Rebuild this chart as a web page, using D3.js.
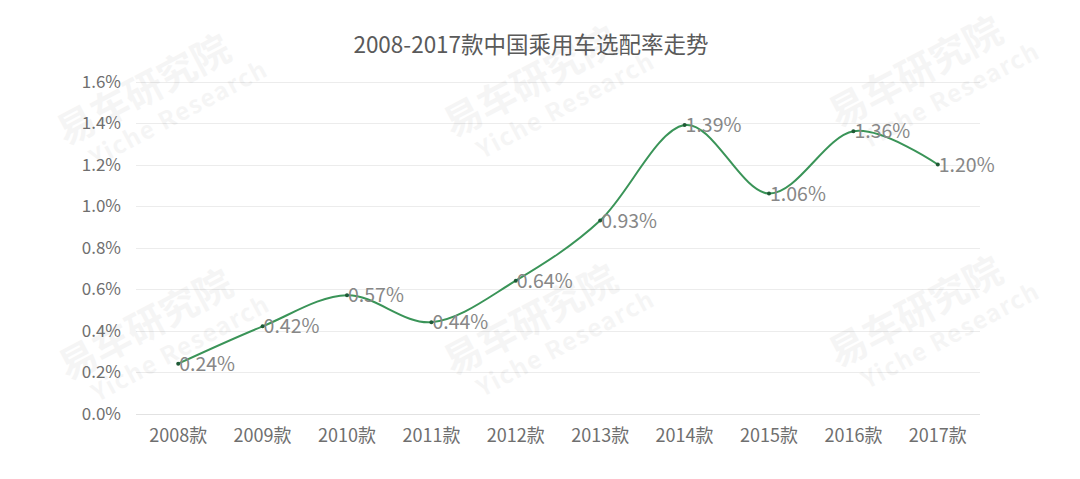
<!DOCTYPE html>
<html>
<head>
<meta charset="utf-8">
<script src="https://cdn.jsdelivr.net/npm/d3@7"></script>
<style>
  html, body { margin: 0; padding: 0; background: #ffffff; }
  svg { display: block; }
  text { font-family: "Noto Sans CJK SC", "Open Sans", sans-serif; }
</style>
</head>
<body>
<div id="chart"></div>
<script>
const title = "2008-2017款中国乘用车选配率走势";
const categories = ["2008款","2009款","2010款","2011款","2012款","2013款","2014款","2015款","2016款","2017款"];
const values = [0.24, 0.42, 0.57, 0.44, 0.64, 0.93, 1.39, 1.06, 1.36, 1.20];
const yTicks = [0, 0.2, 0.4, 0.6, 0.8, 1.0, 1.2, 1.4, 1.6];
const watermarkPositions = [[158, 100], [545, 92], [930, 82], [160, 335], [545, 330], [930, 322]];

const W = 1080, H = 479;
const svg = d3.select("#chart").append("svg").attr("width", W).attr("height", H);
svg.append("rect").attr("width", W).attr("height", H).attr("fill", "#ffffff");

const x = d3.scaleBand().domain(categories).range([136, 980]);
const y = d3.scaleLinear().domain([0, 1.6]).range([413.5, 81.5]);

// gridlines
svg.append("g").selectAll("line").data(yTicks).join("line")
  .attr("x1", 136).attr("x2", 980)
  .attr("y1", d => Math.round(y(d)) + 0.5).attr("y2", d => Math.round(y(d)) + 0.5)
  .attr("stroke", d => d === 0 ? "#e2e2e2" : "#ececec").attr("stroke-width", 1);

// watermarks
const wm = svg.append("g").attr("pointer-events", "none");
watermarkPositions.forEach(([cx, cy]) => {
  const g = wm.append("g").attr("transform", `translate(${cx},${cy}) rotate(-28)`);
  g.append("text").attr("x", -8).attr("y", -2).attr("text-anchor", "middle")
    .attr("font-size", 38).attr("font-weight", 700).attr("fill", "#000").attr("opacity", 0.035)
    .text("易车研究院");
  g.append("text").attr("x", 12).attr("y", 30).attr("text-anchor", "middle")
    .attr("font-size", 24).attr("font-weight", 700).attr("fill", "#000").attr("opacity", 0.035)
    .attr("letter-spacing", 1.5)
    .text("Yiche Research");
});

// y axis labels
const yAxis = d3.axisLeft(y).tickValues(yTicks).tickSize(0).tickPadding(0)
  .tickFormat(d => d.toFixed(1) + "%");
const yg = svg.append("g").attr("transform", "translate(121,0)").call(yAxis);
yg.select(".domain").remove();
yg.selectAll("text").attr("font-size", 17).attr("fill", "#6f6f6f")
  .attr("font-family", "'Open Sans', 'Noto Sans CJK SC', sans-serif").attr("dy", "0.35em");

// x axis labels
const xAxis = d3.axisBottom(x).tickSize(0).tickPadding(0);
const xg = svg.append("g").attr("transform", "translate(0,427)").call(xAxis);
xg.select(".domain").remove();
xg.selectAll("text").attr("font-size", 18).attr("fill", "#6f6f6f").attr("dy", "0.85em");

// line
const cx = d => x(d) + x.bandwidth() / 2;
const pts = categories.map((c, i) => [cx(c), y(values[i])]);
svg.append("path").datum(pts)
  .attr("d", d3.line().curve(d3.curveCardinal.tension(0)))
  .attr("fill", "none").attr("stroke", "#3a9458").attr("stroke-width", 2);

svg.append("g").selectAll("circle").data(pts).join("circle")
  .attr("cx", d => d[0]).attr("cy", d => d[1]).attr("r", 2)
  .attr("fill", "#1f5a35");

// data labels
svg.append("g").selectAll("text").data(values).join("text")
  .attr("x", (d, i) => cx(categories[i]) + 1)
  .attr("y", d => y(d))
  .attr("dy", "0.36em")
  .attr("font-size", 19.5).attr("fill", "#878787")
  .attr("font-family", "'Open Sans', 'Noto Sans CJK SC', sans-serif")
  .text(d => d.toFixed(2) + "%");

// title
svg.append("text").attr("x", 531).attr("y", 53).attr("text-anchor", "middle")
  .attr("font-size", 22.5).attr("fill", "#5a5a5a").text(title);
</script>
</body>
</html>
